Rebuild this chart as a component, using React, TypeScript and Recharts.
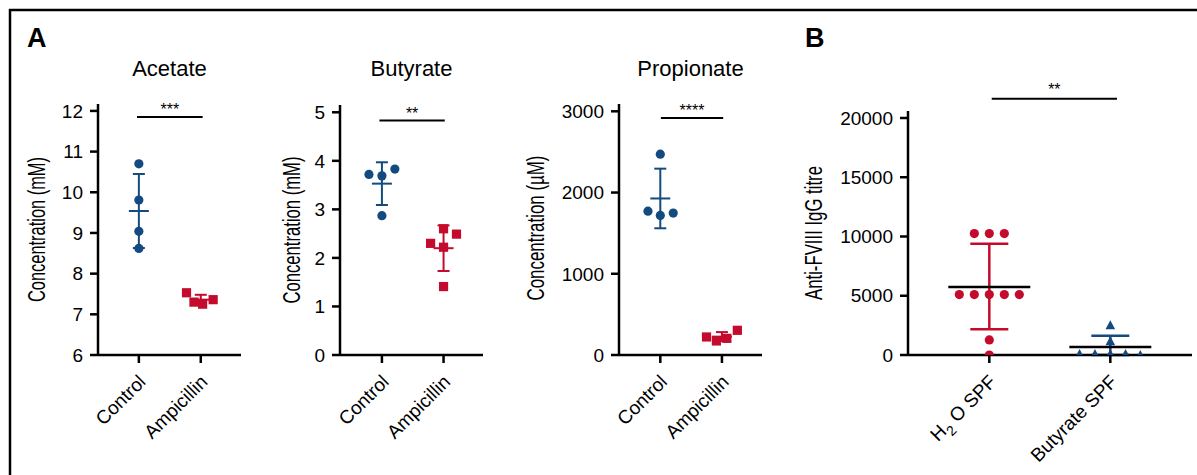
import React from 'react';
import { ScatterChart, Scatter, XAxis, YAxis, ErrorBar, ReferenceLine } from 'recharts';

// 색상 / 폰트
const BLUE = '#134b80';
const RED = '#c40b2d';
const FONT = '"Liberation Sans", Arial, Helvetica, sans-serif';
const NARROW = '"Liberation Sans Narrow", "Liberation Sans", Arial, sans-serif';

// ---- A: Acetate (mM)
const acetateGroups = ['Control', 'Ampicillin'];
const acetateCtrl = [10.7, 9.81, 9.04, 8.62];
const acetateCtrlJit = [0, 0, 0, 0];
const acetateAmp = [7.53, 7.3, 7.25, 7.36];
const acetateAmpJit = [-0.23, -0.11, 0.03, 0.2];
const acetateMean = [9.54, 7.36];
const acetateSd = [0.91, 0.12];
const acetateTicks = [6, 7, 8, 9, 10, 11, 12];

// ---- A: Butyrate (mM)
const butyrateGroups = ['Control', 'Ampicillin'];
const butyrateCtrl = [3.72, 3.69, 3.83, 2.87];
const butyrateCtrlJit = [-0.21, 0, 0.21, 0];
const butyrateAmp = [2.3, 2.6, 2.49, 2.22, 1.41];
const butyrateAmpJit = [-0.21, 0, 0.21, 0, 0];
const butyrateMean = [3.53, 2.2];
const butyrateSd = [0.44, 0.47];
const butyrateTicks = [0, 1, 2, 3, 4, 5];

// ---- A: Propionate (µM)
const propionateGroups = ['Control', 'Ampicillin'];
const propionateCtrl = [1771, 2472, 1718, 1747];
const propionateCtrlJit = [-0.2, 0, 0, 0.21];
const propionateAmp = [222, 173, 205, 304];
const propionateAmpJit = [-0.25, -0.09, 0.08, 0.25];
const propionateMean = [1927, 226];
const propionateSd = [367, 56];
const propionateTicks = [0, 1000, 2000, 3000];

// ---- B: Anti-FVIII IgG titre
const titreGroups = ['H₂O SPF', 'Butyrate SPF'];
const titreH2O = [10250, 10250, 10250, 5100, 5100, 5100, 5100, 5100, 1270, 0];
const titreH2OJit = [-0.124, 0, 0.124, -0.248, -0.124, 0, 0.124, 0.248, 0, 0];
const titreBut = [85, 85, 85, 85, 0, 1160, 2510];
const titreButJit = [-0.254, -0.127, 0, 0.126, 0.248, 0, 0];
const titreMean = [5745, 675];
const titreErr: [number, number][] = [[3577, 3653], [675, 955]];
const titreTicks = [0, 5000, 10000, 15000, 20000];

const pts = (vals: number[], jit: number[], g: number) => vals.map((y, i) => ({ x: g + jit[i], y }));

const dot = (c: string) => (p: any) => <circle cx={p.cx} cy={p.cy} r={4.6} fill={c} />;
const square = (c: string) => (p: any) => <rect x={p.cx - 4.6} y={p.cy - 4.6} width={9.2} height={9.2} fill={c} />;
const tri = (c: string) => (p: any) => (
    <path d={`M${p.cx},${p.cy - 5} L${p.cx + 4.8},${p.cy + 4} L${p.cx - 4.8},${p.cy + 4} Z`} fill={c} />
);
const meanLine = (c: string, half: number, sw: number) => (p: any) => (
    <line x1={p.cx - half} x2={p.cx + half} y1={p.cy} y2={p.cy} stroke={c} strokeWidth={sw} />
);

function XTick({ x, y, payload, labels }: any) {
    const label: string = labels[Math.round(payload.value)] ?? '';
    const tx = x + 8, ty = y + 18;
    const parts = label.split('₂');
    return (
        <text x={tx} y={ty} textAnchor="end" transform={`rotate(-45 ${tx} ${ty})`} fontSize={19} fontFamily={FONT} fill="#000">
            {parts.length === 2 ? (
                <>
                    <tspan>{parts[0]}</tspan>
                    <tspan fontSize={14} dy={6}>2</tspan>
                    <tspan dy={-6}>{' ' + parts[1]}</tspan>
                </>
            ) : label}
        </text>
    );
}

interface PanelProps {
    left: number; width: number; margin: { top: number; right: number; bottom: number; left: number };
    yWidth: number; yDomain: [number, number]; yTicks: number[]; xDomain: [number, number];
    groups: string[]; series: { data: { x: number; y: number }[]; shape: any }[];
    means: number[]; errs: any[]; meanColors: string[]; errColors: string[];
    meanHalf: number; whiskerHalf: number; lineW: number;
    sig: { x1: number; x2: number; y: number; text: string; offset: number };
}

function Panel(p: PanelProps) {
    const axisStyle = { stroke: '#000', strokeWidth: 2.5 };
    return (
        <div style={{ position: 'absolute', left: p.left, top: 0 }}>
            <ScatterChart width={p.width} height={475} margin={p.margin}>
                <XAxis type="number" dataKey="x" domain={p.xDomain} ticks={[0, 1]} allowDataOverflow
                    height={60} tickSize={8} axisLine={axisStyle} tickLine={axisStyle}
                    tick={(t: any) => <XTick {...t} labels={p.groups} />} />
                <YAxis type="number" dataKey="y" domain={p.yDomain} ticks={p.yTicks} allowDataOverflow interval={0}
                    width={p.yWidth} tickSize={8} tickMargin={7} axisLine={axisStyle} tickLine={axisStyle}
                    tick={{ fontSize: 19, fill: '#000', fontFamily: FONT }} />
                {p.means.map((m, g) => (
                    <Scatter key={`m${g}`} data={[{ x: g, y: m, err: p.errs[g] }]} isAnimationActive={false}
                        shape={meanLine(p.meanColors[g], p.meanHalf, p.lineW)}>
                        <ErrorBar dataKey="err" direction="y" width={p.whiskerHalf} stroke={p.errColors[g]}
                            strokeWidth={p.lineW} isAnimationActive={false} />
                    </Scatter>
                ))}
                {p.series.map((s, i) => (
                    <Scatter key={`s${i}`} data={s.data} shape={s.shape} isAnimationActive={false} />
                ))}
                <ReferenceLine segment={[{ x: p.sig.x1, y: p.sig.y }, { x: p.sig.x2, y: p.sig.y }]}
                    stroke="#000" strokeWidth={2} ifOverflow="visible"
                    label={{ value: p.sig.text, position: 'top', fontSize: 16, fill: '#000', offset: p.sig.offset, fontFamily: FONT }} />
            </ScatterChart>
        </div>
    );
}

export default function App() {
    // 세로축 제목: 원본은 좁은(condensed) 글꼴이라 textLength 로 폭을 맞춤
    const yLab = (text: string, cx: number, cy: number, len: number) => (
        <text x={cx + 8} y={cy} textAnchor="middle" transform={`rotate(-90 ${cx + 8} ${cy})`}
            fontSize={23} fontFamily={NARROW} fill="#000" textLength={len} lengthAdjust="spacingAndGlyphs">{text}</text>
    );
    const title = (text: string, cx: number) => (
        <text x={cx} y={76} textAnchor="middle" fontSize={22} fontFamily={FONT} fill="#000">{text}</text>
    );
    return (
        <div style={{ position: 'absolute', left: 0, top: 0, width: 1197, height: 475, background: '#fff', fontFamily: FONT }}>
            <Panel left={0} width={250} margin={{ top: 104, right: 9, bottom: 60, left: 38 }} yWidth={60}
                yDomain={[6, 12.17]} yTicks={acetateTicks} xDomain={[-0.66, 1.65]} groups={acetateGroups}
                series={[
                    { data: pts(acetateCtrl, acetateCtrlJit, 0), shape: dot(BLUE) },
                    { data: pts(acetateAmp, acetateAmpJit, 1), shape: square(RED) },
                ]}
                means={acetateMean} errs={acetateSd} meanColors={[BLUE, RED]} errColors={[BLUE, RED]}
                meanHalf={10} whiskerHalf={6} lineW={2}
                sig={{ x1: -0.03, x2: 1.03, y: 11.85, text: '***', offset: 2 }} />
            <Panel left={255} width={260} margin={{ top: 105, right: 32, bottom: 60, left: 25 }} yWidth={60}
                yDomain={[0, 5.15]} yTicks={butyrateTicks} xDomain={[-0.68, 1.64]} groups={butyrateGroups}
                series={[
                    { data: pts(butyrateCtrl, butyrateCtrlJit, 0), shape: dot(BLUE) },
                    { data: pts(butyrateAmp, butyrateAmpJit, 1), shape: square(RED) },
                ]}
                means={butyrateMean} errs={butyrateSd} meanColors={[BLUE, RED]} errColors={[BLUE, RED]}
                meanHalf={10} whiskerHalf={6} lineW={2}
                sig={{ x1: -0.04, x2: 1.02, y: 4.83, text: '**', offset: 2 }} />
            <Panel left={515} width={260} margin={{ top: 104, right: 13, bottom: 60, left: 44 }} yWidth={60}
                yDomain={[0, 3090]} yTicks={propionateTicks} xDomain={[-0.67, 1.65]} groups={propionateGroups}
                series={[
                    { data: pts(propionateCtrl, propionateCtrlJit, 0), shape: dot(BLUE) },
                    { data: pts(propionateAmp, propionateAmpJit, 1), shape: square(RED) },
                ]}
                means={propionateMean} errs={propionateSd} meanColors={[BLUE, RED]} errColors={[BLUE, RED]}
                meanHalf={10} whiskerHalf={6} lineW={2}
                sig={{ x1: 0.01, x2: 1.02, y: 2918, text: '****', offset: 2 }} />
            <Panel left={775} width={422} margin={{ top: 111, right: 5, bottom: 60, left: 58 }} yWidth={75}
                yDomain={[0, 20590]} yTicks={titreTicks} xDomain={[-0.672, 1.675]} groups={titreGroups}
                series={[
                    { data: pts(titreH2O, titreH2OJit, 0), shape: dot(RED) },
                    { data: pts(titreBut, titreButJit, 1), shape: tri(BLUE) },
                ]}
                means={titreMean} errs={titreErr} meanColors={['#000', '#000']} errColors={[RED, BLUE]}
                meanHalf={41} whiskerHalf={19} lineW={2.5}
                sig={{ x1: 0.02, x2: 1.055, y: 21630, text: '**', offset: 4 }} />
            <svg width={1197} height={475} style={{ position: 'absolute', left: 0, top: 0, pointerEvents: 'none' }}>
                <line x1={9} x2={1197} y1={10} y2={10} stroke="#000" strokeWidth={2.5} />
                <line x1={10} x2={10} y1={9} y2={475} stroke="#000" strokeWidth={2.5} />
                <text x={27} y={47} fontSize={27} fontWeight="bold" fontFamily={FONT} fill="#000">A</text>
                <text x={805} y={47} fontSize={27} fontWeight="bold" fontFamily={FONT} fill="#000">B</text>
                {title('Acetate', 169.5)}
                {title('Butyrate', 411.5)}
                {title('Propionate', 690.5)}
                {yLab('Concentration (mM)', 37, 229.5, 145)}
                {yLab('Concentration (mM)', 292, 230, 147)}
                {yLab('Concentration (µM)', 536, 228, 145)}
                {yLab('Anti-FVIII IgG titre', 814, 233, 134)}
            </svg>
        </div>
    );
}
